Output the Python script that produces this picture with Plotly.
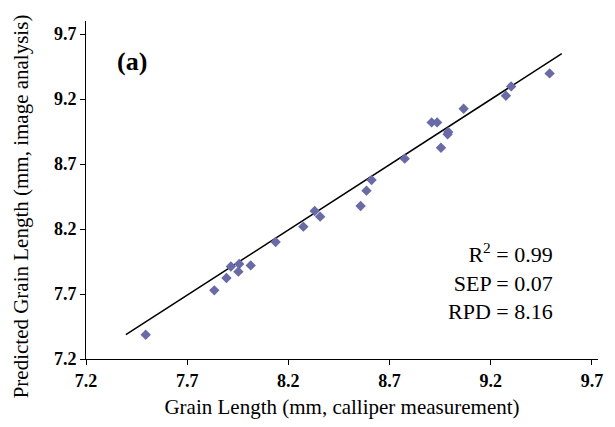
import plotly.graph_objects as go

measured = [7.495, 7.834, 7.894, 7.916, 7.953, 7.957, 8.014, 8.137,
            8.274, 8.330, 8.357, 8.557, 8.586, 8.611, 8.775, 8.908,
            8.935, 8.954, 8.987, 8.990, 9.066, 9.275, 9.301, 9.491]
predicted = [7.387, 7.728, 7.823, 7.912, 7.872, 7.931, 7.920, 8.100,
             8.218, 8.338, 8.295, 8.377, 8.495, 8.577, 8.741, 9.020,
             9.020, 8.825, 8.928, 8.946, 9.125, 9.225, 9.297, 9.397]
fit_x = [7.397, 9.551]
fit_y = [7.387, 9.549]
tick_vals = [7.2, 7.7, 8.2, 8.7, 9.2, 9.7]
tick_text = ["7.2", "7.7", "8.2", "8.7", "9.2", "9.7"]

FONT = "Liberation Serif, Times New Roman, serif"

fig = go.Figure()
fig.add_trace(go.Scatter(x=fit_x, y=fit_y, mode="lines",
                         line=dict(color="black", width=1.5), showlegend=False))
fig.add_trace(go.Scatter(x=measured, y=predicted, mode="markers",
                         marker=dict(symbol="diamond", size=8, color="#6a6aa6"),
                         showlegend=False))

axis_common = dict(showgrid=False, zeroline=False, showline=True, linecolor="black",
                   linewidth=1, ticks="outside", ticklen=5, tickcolor="black",
                   tickvals=tick_vals, ticktext=tick_text,
                   tickfont=dict(family=FONT, size=18, color="black", weight="bold"))

# The page body has an 8px default margin, so the figure is sized to fit the window.
fig.update_layout(
    width=607, height=419,
    margin=dict(l=78, r=15, t=13, b=68),
    plot_bgcolor="white", paper_bgcolor="white",
    xaxis=dict(range=[7.2, 9.73], **axis_common,
               title=dict(text="Grain Length (mm, calliper measurement)",
                          font=dict(family=FONT, size=21, color="black"), standoff=9)),
    yaxis=dict(range=[7.2, 9.8], **axis_common),
    annotations=[
        dict(x=-0.128, y=0.453, xref="paper", yref="paper",
             text="Predicted Grain Length (mm, image analysis)", textangle=-90,
             showarrow=False, xanchor="center", yanchor="middle", borderpad=0,
             font=dict(family=FONT, size=21, color="black")),
        dict(x=0.056, y=0.879, xref="paper", yref="paper", text="<b>(a)</b>",
             showarrow=False, xanchor="left", yanchor="middle",
             font=dict(family=FONT, size=26, color="black")),
        dict(x=9.517, y=7.80, xref="x", yref="y", xanchor="right", yanchor="middle",
             align="right", showarrow=False,
             text="R<sup>2</sup> = 0.99<br>SEP = 0.07<br>RPD = 8.16",
             font=dict(family=FONT, size=22, color="black")),
    ],
)

fig.write_html("out.html")
